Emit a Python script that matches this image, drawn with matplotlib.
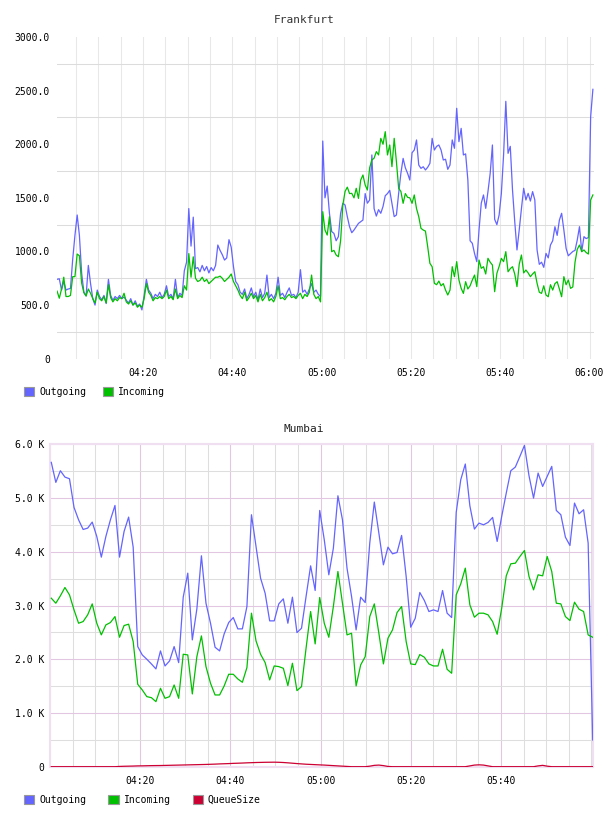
"""Traffic charts: Frankfurt and Mumbai"""

import matplotlib
matplotlib.use("Agg")
import matplotlib.pyplot as plt
import matplotlib.dates as mdates
from matplotlib.patches import Patch
from matplotlib.ticker import FuncFormatter
import pandas as pd

plt.rcParams['font.family'] = ['DejaVu Sans Mono']
plt.rcParams['font.size'] = 7

# --- Frankfurt data (one sample every 30 s) ---
fra_out = [
    740, 745, 640, 720, 640, 650, 655, 927, 1150, 1340,
    1150, 800, 620, 585, 870, 700, 560, 500, 640, 580,
    550, 590, 515, 740, 590, 545, 580, 560, 590, 560,
    575, 545, 520, 560, 500, 540, 490, 510, 455, 590,
    740, 640, 610, 560, 600, 580, 620, 570, 600, 680,
    580, 600, 560, 740, 570, 610, 590, 820, 900, 1400,
    1050, 1320, 840, 850, 810, 870, 820, 860, 800, 850,
    820, 870, 1060, 1010, 970, 920, 940, 1110, 1040, 860,
    720, 690, 620, 600, 650, 560, 600, 660, 580, 620,
    550, 650, 570, 610, 780, 570, 600, 560, 610, 760,
    590, 610, 570, 620, 660, 590, 600, 570, 620, 830,
    620, 640, 600, 650, 700, 620, 640, 600, 580, 2030,
    1500, 1610, 1356, 1185, 1169, 1100, 1138, 1356, 1449, 1433,
    1325, 1231, 1175, 1200, 1231, 1262, 1278, 1293, 1540, 1450,
    1480, 1900, 1400, 1330, 1390, 1356, 1420, 1520, 1540, 1570,
    1450, 1325, 1340, 1542, 1729, 1868, 1780, 1729, 1666, 1921,
    1946, 2040, 1806, 1775, 1790, 1760, 1785, 1822, 2055, 1946,
    1980, 1993, 1946, 1853, 1860, 1766, 1806, 2040, 1962, 2335,
    2024, 2148, 1900, 1910, 1666, 1100, 1076, 980, 905, 1200,
    1450, 1527, 1402, 1558, 1729, 1993, 1300, 1250, 1340, 1540,
    1900, 2400, 1915, 1980, 1573, 1278, 1014, 1200, 1400, 1589,
    1480, 1542, 1470, 1558, 1480, 1014, 880, 900, 852, 982,
    940, 1060, 1100, 1231, 1150, 1293, 1356, 1200, 1029, 960,
    980, 1000, 1010, 1107, 1231, 1000, 1138, 1120, 1130, 2257,
    2512,
]
fra_in = [
    630, 564, 650, 760, 580, 580, 590, 765, 765, 976,
    960, 706, 616, 585, 650, 610, 560, 520, 620, 560,
    540, 580, 520, 690, 570, 530, 560, 540, 570, 560,
    610, 530, 510, 540, 500, 520, 480, 500, 480, 560,
    700, 620, 590, 540, 570, 560, 580, 560, 580, 640,
    560, 580, 550, 650, 560, 590, 570, 680, 640, 980,
    760, 950, 750, 720, 730, 760, 720, 740, 700, 720,
    740, 760, 760, 770, 750, 720, 740, 760, 790, 720,
    680, 640, 590, 560, 620, 540, 570, 610, 560, 590,
    530, 600, 540, 570, 620, 540, 560, 530, 580, 680,
    560, 570, 550, 580, 600, 570, 580, 560, 590, 610,
    560, 600, 580, 620, 780, 600, 560, 580, 530, 1371,
    1200, 1153, 1324, 998, 1010, 967, 951, 1100, 1433, 1560,
    1600, 1540, 1542, 1500, 1589, 1495, 1666, 1713, 1620, 1573,
    1780, 1853, 1870, 1931, 1900, 2055, 2000, 2117, 1900, 1993,
    1791, 2055, 1837, 1589, 1560, 1449, 1540, 1505, 1500, 1449,
    1527, 1400, 1325, 1216, 1200, 1190, 1045, 889, 858, 703,
    690, 724, 680, 700, 640, 594, 640, 858, 765, 905,
    734, 656, 609, 718, 650, 680, 734, 780, 672, 920,
    843, 858, 790, 936, 900, 874, 625, 796, 860, 936,
    905, 998, 811, 840, 858, 790, 672, 880, 967, 800,
    827, 800, 765, 790, 811, 703, 620, 609, 680, 594,
    578, 690, 640, 700, 718, 650, 578, 765, 690, 734,
    656, 669, 900, 1020, 1060, 998, 1014, 990, 976, 1480,
    1527,
]

# --- Mumbai data (about one sample per minute) ---
mum_out = [
    5664, 5291, 5508, 5390, 5359, 4825, 4595, 4415, 4440, 4552,
    4285, 3900, 4285, 4595, 4862, 3900, 4378, 4645, 4086, 2236,
    2080, 2000, 1913, 1820, 2155, 1875, 1969, 2236, 1937, 3155,
    3602, 2360, 2937, 3925, 3043, 2670, 2223, 2155, 2472, 2683,
    2776, 2565, 2565, 2981, 4689, 4099, 3509, 3229, 2714, 2714,
    3030, 3124, 2670, 3155, 2496, 2577, 3167, 3738, 3279, 4769,
    4223, 3571, 4067, 5042, 4595, 3695, 3167, 2546, 3155, 3055,
    4161, 4925, 4347, 3757, 4086, 3962, 3987, 4304, 3540, 2596,
    2763, 3242, 3093, 2888, 2919, 2888, 3279, 2857, 2776, 4732,
    5341, 5633, 4856, 4422, 4533, 4502, 4546, 4639, 4192, 4658,
    5092, 5508, 5577, 5775, 5980, 5415, 4999, 5465, 5216, 5403,
    5589, 4769, 4689, 4272, 4117, 4906, 4707, 4782, 4161, 497,
]
mum_in = [
    3136, 3043, 3180, 3335, 3198, 2919, 2670, 2701, 2826, 3030,
    2670, 2453, 2639, 2683, 2794, 2409, 2627, 2652, 2329, 1534,
    1428, 1304, 1285, 1211, 1459, 1273, 1304, 1521, 1273, 2093,
    2080, 1354, 2049, 2434, 1863, 1553, 1335, 1335, 1503, 1720,
    1720, 1633, 1571, 1844, 2857, 2341, 2093, 1938, 1615, 1875,
    1863, 1832, 1509, 1925, 1416, 1490, 2205, 2888, 2285, 3149,
    2670, 2409, 2981, 3633, 3043, 2453, 2484, 1503, 1894, 2049,
    2794, 3030, 2484, 1913, 2391, 2546, 2869, 2981, 2329, 1913,
    1900, 2087, 2037, 1913, 1875, 1875, 2186, 1813, 1739, 3198,
    3403, 3695, 3012, 2782, 2857, 2857, 2826, 2701, 2465, 2950,
    3552, 3776, 3788, 3912, 4024, 3540, 3291, 3571, 3552, 3912,
    3633, 3043, 3030, 2794, 2720, 3062, 2931, 2888, 2453, 2409,
]
mum_queue = [
    0, 0, 0, 0, 0, 0, 0, 0, 0, 0,
    0, 0, 0, 0, 0, 5, 8, 10, 12, 15,
    16, 18, 20, 21, 22, 24, 26, 28, 30, 32,
    34, 36, 38, 40, 42, 45, 48, 52, 55, 58,
    62, 65, 68, 72, 75, 78, 80, 82, 83, 84,
    82, 78, 72, 65, 58, 52, 46, 42, 38, 34,
    30, 25, 20, 15, 10, 5, 0, 0, 0, 0,
    10, 25, 30, 20, 5, 0, 0, 0, 0, 0,
    0, 0, 0, 0, 0, 0, 0, 0, 0, 0,
    0, 0, 15, 30, 35, 30, 15, 0, 0, 0,
    0, 0, 0, 0, 0, 0, 0, 15, 25, 10,
    0, 0, 0, 0, 0, 0, 0, 0, 0, 0,
]
mum_ticks = ["04:20", "04:40", "05:00", "05:20", "05:40"]

fra_time = pd.date_range("2020-01-01 04:00:45", periods=len(fra_out), freq="30s")
mum_time = pd.date_range("2020-01-01 04:00:17", "2020-01-01 06:00:20", periods=len(mum_out))

C_OUT = '#6464ff'
C_IN = '#00c000'
C_Q = '#cc0033'
W, H = 608, 816

fig = plt.figure(figsize=(W / 100, H / 100), dpi=100)
ax1 = fig.add_axes([57 / W, 1 - 358.7 / H, (594 - 57) / W, (358.7 - 37) / H])
ax2 = fig.add_axes([50 / W, 1 - 766.7 / H, (593 - 50) / W, (766.7 - 444.3) / H])

# Frankfurt
ax1.plot(fra_time, fra_out, color=C_OUT, lw=0.9, zorder=3)
ax1.plot(fra_time, fra_in, color=C_IN, lw=0.9, zorder=3)
ax1.set_xlim(pd.Timestamp("2020-01-01 04:00:44"), pd.Timestamp("2020-01-01 06:01:00"))
ax1.set_ylim(0, 3000)
ax1.set_yticks(range(0, 3001, 500))
ax1.set_yticks(range(250, 3000, 500), minor=True)
ax1.yaxis.set_major_formatter(FuncFormatter(lambda v, p: "0" if v == 0 else f"{v:.1f}"))
ax1.xaxis.set_major_locator(mdates.MinuteLocator(byminute=[0, 20, 40]))
ax1.xaxis.set_minor_locator(mdates.MinuteLocator(byminute=range(0, 60, 5)))
ax1.xaxis.set_major_formatter(mdates.DateFormatter("%H:%M"))
ax1.grid(which='minor', axis='y', color='#dcdcdc', lw=0.75)
ax1.grid(which='both', axis='x', color='#e8e8e8', lw=0.75)
for s in ax1.spines.values():
    s.set_visible(False)
ax1.tick_params(which='both', length=0)
ax1.tick_params(axis='y', pad=5)
ax1.tick_params(axis='x', pad=7)
ax1.set_axisbelow(True)
fig.text(0.5, 1 - 20 / H, "Frankfurt", ha='center', va='center', fontsize=8, color='#333333')

# Mumbai
ax2.plot(mum_time, mum_out, color=C_OUT, lw=0.9, zorder=3)
ax2.plot(mum_time, mum_in, color=C_IN, lw=0.9, zorder=3)
ax2.plot(mum_time, mum_queue, color=C_Q, lw=0.9, zorder=3)
ax2.set_xlim(pd.Timestamp("2020-01-01 04:00:00"), pd.Timestamp("2020-01-01 06:00:24"))
ax2.set_ylim(0, 6000)
ax2.set_yticks(range(0, 6001, 1000))
ax2.set_yticks(range(500, 6000, 1000), minor=True)
ax2.yaxis.set_major_formatter(FuncFormatter(lambda v, p: "0" if v == 0 else f"{v / 1000:.1f} K"))
ax2.set_xticks(pd.to_datetime(["2020-01-01 " + t for t in mum_ticks]))
ax2.xaxis.set_minor_locator(mdates.MinuteLocator(byminute=range(0, 60, 5)))
ax2.xaxis.set_major_formatter(mdates.DateFormatter("%H:%M"))
ax2.grid(which='major', color='#e2c6e2', lw=0.75)
ax2.grid(which='minor', color='#dedede', lw=0.75)
for s in ax2.spines.values():
    s.set_color('#f0dff0')
    s.set_linewidth(1.5)
ax2.tick_params(which='both', length=0)
ax2.tick_params(axis='y', pad=4)
ax2.tick_params(axis='x', pad=7)
ax2.set_axisbelow(True)
fig.text(0.5, 1 - 429 / H, "Mumbai", ha='center', va='center', fontsize=8, color='#222222')

# Legends
def legenda(labels, colors, y, spacing):
    handles = [Patch(facecolor=c, edgecolor='#999999', lw=0.8) for c in colors]
    fig.legend(handles, labels, loc='center left', bbox_to_anchor=(24 / W, 1 - y / H),
               ncol=len(labels), frameon=False, borderpad=0, borderaxespad=0,
               handlelength=1.05, handleheight=1.05, handletextpad=0.5,
               columnspacing=spacing, fontsize=7)

legenda(['Outgoing', 'Incoming'], [C_OUT, C_IN], 392, 1.7)
legenda(['Outgoing', 'Incoming', 'QueueSize'], [C_OUT, C_IN, C_Q], 800, 2.3)

fig.savefig("out.png", dpi=100)
